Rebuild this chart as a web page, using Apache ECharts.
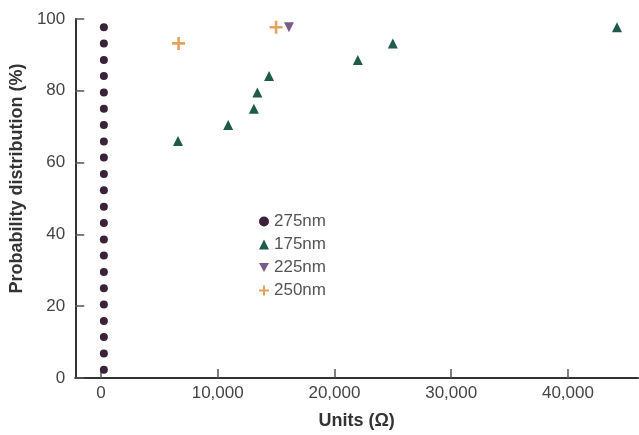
<!DOCTYPE html>
<html>
<head>
<meta charset="utf-8">
<script src="https://cdn.jsdelivr.net/npm/echarts@6/dist/echarts.min.js"></script>
<style>
  html, body { margin: 0; padding: 0; background: #fff; }
  #chart { width: 639px; height: 435px; }
</style>
</head>
<body>
<div id="chart"></div>
<script>
// series names
const seriesNames = ['275nm', '175nm', '225nm', '250nm'];

// 275nm: all points sit at the left column
const x275 = [250, 250, 250, 250, 250, 250, 250, 250, 250, 250, 250,
              250, 250, 250, 250, 250, 250, 250, 250, 250, 250, 250];
const y275 = [2.3, 6.8, 11.4, 15.9, 20.5, 25.0, 29.5, 34.1, 38.6, 43.2, 47.7,
              52.3, 56.8, 61.4, 65.9, 70.5, 75.0, 79.5, 84.1, 88.6, 93.2, 97.7];

// 175nm
const x175 = [6600, 10900, 13100, 13400, 14400, 22000, 25000, 44200];
const y175 = [66.0, 70.5, 75.0, 79.5, 84.1, 88.6, 93.2, 97.7];

// 225nm
const x225 = [16100];
const y225 = [97.7];

// 250nm
const x250 = [6650, 15000];
const y250 = [93.2, 97.7];

const xTicks = [0, 10000, 20000, 30000, 40000];
const yTicks = [0, 20, 40, 60, 80, 100];

const zip = (xs, ys) => xs.map((x, i) => [x, ys[i]]);

const plusPath = 'path://M4,0H6V4H10V6H6V10H4V6H0V4H4Z';
const labelFont = 'Liberation Sans, Arial, sans-serif';

const chart = echarts.init(document.getElementById('chart'));
chart.setOption({
    animation: false,
    backgroundColor: '#fff',
    grid: {
        left: 74,
        right: 1,
        top: 19,
        bottom: 57
    },
    legend: {
        orient: 'vertical',
        left: 254,
        top: 208,
        itemGap: 6,
        itemWidth: 10,
        itemHeight: 10,
        textStyle: {
            fontFamily: labelFont,
            fontSize: 17,
            color: '#555'
        },
        data: [
            { name: seriesNames[0], icon: 'circle' },
            { name: seriesNames[1], icon: 'triangle' },
            { name: seriesNames[2], icon: 'path://M0,0H10L5,9Z' },
            { name: seriesNames[3], icon: plusPath }
        ]
    },
    xAxis: {
        type: 'value',
        min: -2200,
        max: 46000,
        name: 'Units (Ω)',
        nameLocation: 'middle',
        nameGap: 34,
        nameTextStyle: {
            fontFamily: labelFont,
            fontWeight: 'bold',
            fontSize: 18,
            color: '#333'
        },
        splitLine: { show: false },
        axisLine: { onZero: false, lineStyle: { color: '#333', width: 2 } },
        axisTick: {
            inside: true,
            length: 9,
            customValues: xTicks,
            lineStyle: { color: '#555', width: 1.5 }
        },
        axisLabel: {
            customValues: xTicks,
            margin: 7,
            fontFamily: labelFont,
            fontSize: 17,
            color: '#444',
            formatter: v => v.toLocaleString('en-US')
        }
    },
    yAxis: {
        type: 'value',
        min: 0,
        max: 100,
        name: 'Probability distribution (%)',
        nameLocation: 'middle',
        nameGap: 45,
        nameTextStyle: {
            fontFamily: labelFont,
            fontWeight: 'bold',
            fontSize: 18,
            color: '#333',
            padding: [0, 0, 0, 40]
        },
        splitLine: { show: false },
        axisLine: { show: true, onZero: false, lineStyle: { color: '#333', width: 2 } },
        axisTick: {
            show: true,
            inside: true,
            length: 9,
            customValues: yTicks,
            lineStyle: { color: '#555', width: 1.5 }
        },
        axisLabel: {
            customValues: yTicks,
            margin: 10,
            fontFamily: labelFont,
            fontSize: 17,
            color: '#444'
        }
    },
    series: [{
        name: seriesNames[0],
        type: 'scatter',
        data: zip(x275, y275),
        symbol: 'circle',
        symbolSize: 8,
        itemStyle: { color: '#3a2238', opacity: 1 }
    }, {
        name: seriesNames[1],
        type: 'scatter',
        data: zip(x175, y175),
        symbol: 'triangle',
        symbolSize: 10,
        itemStyle: { color: '#1f5a4b', opacity: 1 }
    }, {
        name: seriesNames[2],
        type: 'scatter',
        data: zip(x225, y225),
        symbol: 'triangle',
        symbolRotate: 180,
        symbolSize: 10,
        itemStyle: { color: '#7a5c88', opacity: 1 }
    }, {
        name: seriesNames[3],
        type: 'scatter',
        data: zip(x250, y250),
        symbol: plusPath,
        symbolSize: 13,
        itemStyle: { color: '#e3a25e', opacity: 1 }
    }]
});
</script>
</body>
</html>
